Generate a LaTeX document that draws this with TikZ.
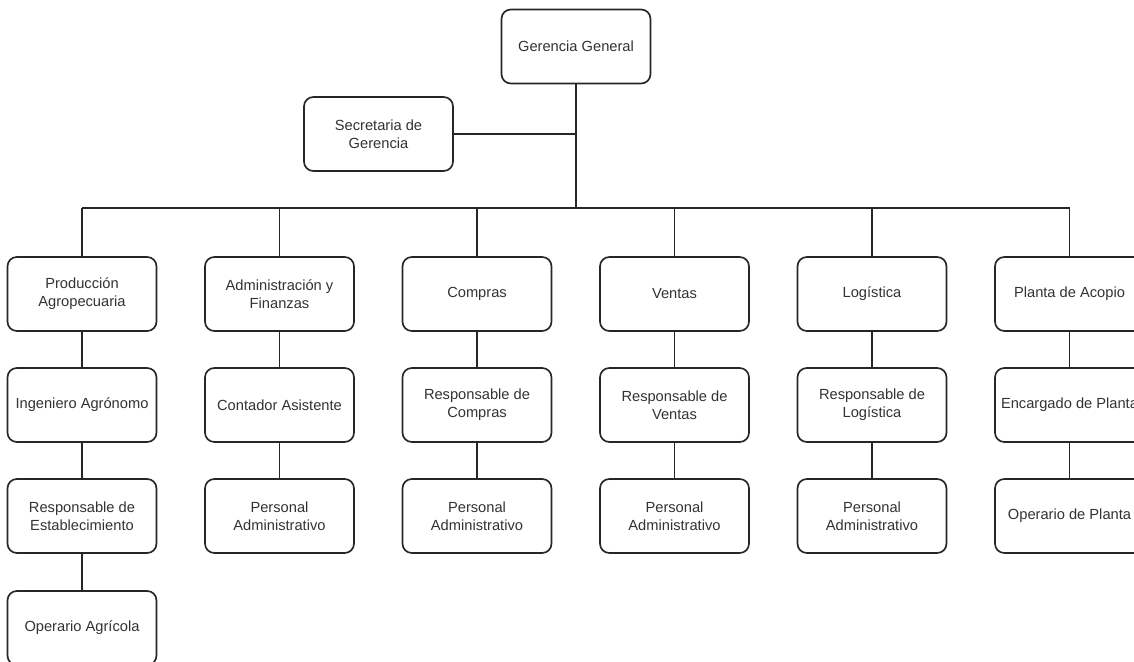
\documentclass[tikz,border=0pt]{standalone}
\usepackage{fontspec}
\setmainfont{Liberation Sans}
\begin{document}
\begin{tikzpicture}[x=0.75pt,y=-0.75pt,
  box/.style={draw=black!85, line width=1.25pt, rounded corners=7pt,
    minimum width=111.75pt, minimum height=55.5pt, inner sep=1pt,
    align=center, text=black!80, font=\fontsize{11}{13.6}\selectfont},
  link/.style={draw=black!85, line width=1.25pt}]
\path[use as bounding box, clip] (0,0) rectangle (1134,661);
\fill[white] (0,0) rectangle (1134,661);

% top management
\node[box] (gg)  at (576,46.5)  {Gerencia General};
\node[box] (sec) at (378.5,134) {Secretaria de\\Gerencia};

% departments
\node[box] (d1) at (82,294)    {Producción\\Agropecuaria};
\node[box] (d2) at (279.5,294) {Administración y\\Finanzas};
\node[box] (d3) at (477,294)   {Compras};
\node[box] (d4) at (674.5,294) {Ventas};
\node[box] (d5) at (872,294)   {Logística};
\node[box] (d6) at (1069.5,294){Planta de Acopio};

% second level
\node[box] (s1) at (82,405)    {Ingeniero Agrónomo};
\node[box] (s2) at (279.5,405) {Contador Asistente};
\node[box] (s3) at (477,405)   {Responsable de\\Compras};
\node[box] (s4) at (674.5,405) {Responsable de\\Ventas};
\node[box] (s5) at (872,405)   {Responsable de\\Logística};
\node[box] (s6) at (1069.5,405){Encargado de Planta};

% third level
\node[box] (t1) at (82,516)    {Responsable de\\Establecimiento};
\node[box] (t2) at (279.5,516) {Personal\\Administrativo};
\node[box] (t3) at (477,516)   {Personal\\Administrativo};
\node[box] (t4) at (674.5,516) {Personal\\Administrativo};
\node[box] (t5) at (872,516)   {Personal\\Administrativo};
\node[box] (t6) at (1069.5,516){Operario de Planta};

% fourth level
\node[box] (f1) at (82,628)    {Operario Agrícola};

% connectors
\coordinate (bus) at (576,208);
\draw[link] (gg.south) -- (bus);
\draw[link] (sec.east) -- (sec.east -| gg.south);
\draw[link] (d1.north |- bus) -- (d6.north |- bus);
\foreach \i in {1,...,6} {
  \draw[link] (d\i.north) -- (d\i.north |- bus);
  \draw[link] (d\i.south) -- (s\i.north);
  \draw[link] (s\i.south) -- (t\i.north);
}
\draw[link] (t1.south) -- (f1.north);
\end{tikzpicture}
\end{document}
